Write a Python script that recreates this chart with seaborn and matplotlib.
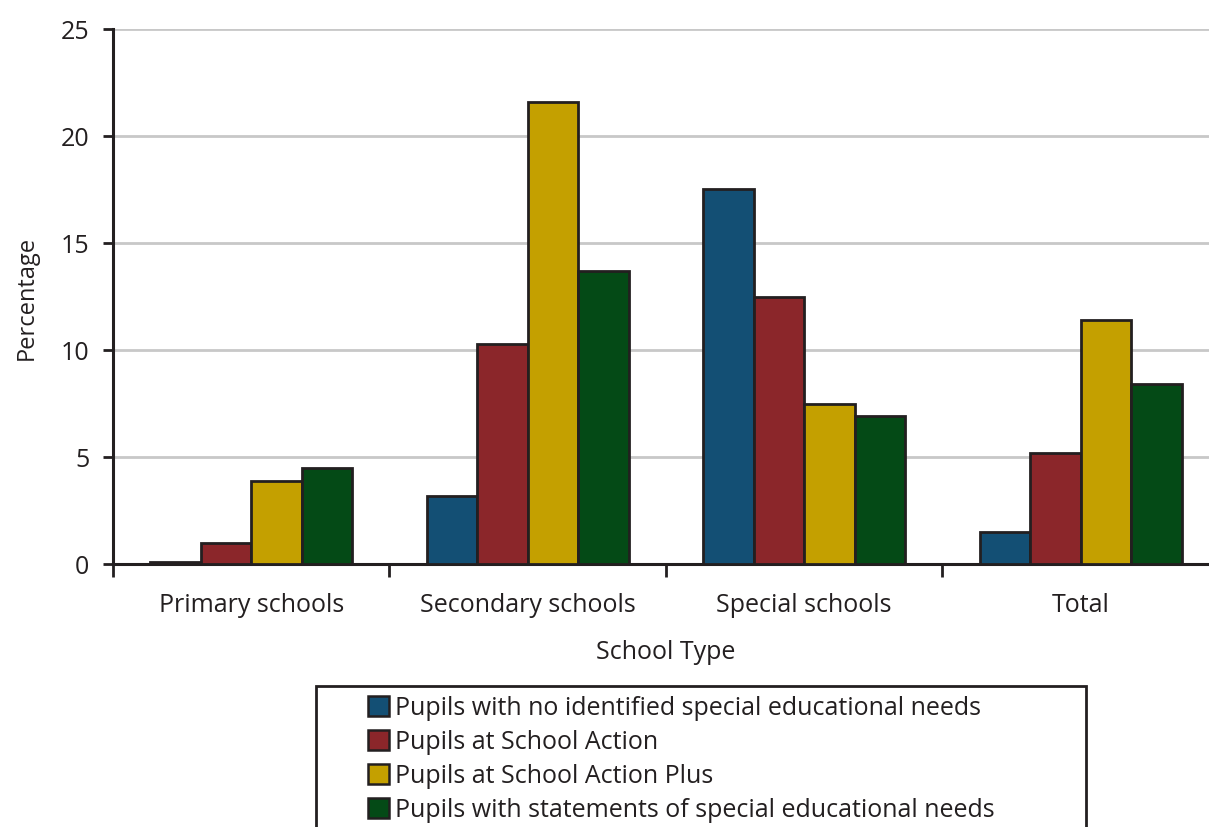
import pandas as pd
import matplotlib.pyplot as plt
import seaborn as sns
from matplotlib.patches import Rectangle

school_types = ['Primary schools', 'Secondary schools', 'Special schools', 'Total']
groups = [
    'Pupils with no identified special educational needs',
    'Pupils at School Action',
    'Pupils at School Action Plus',
    'Pupils with statements of special educational needs',
]
no_sen = [0.1, 3.2, 17.5, 1.5]
school_action = [1.0, 10.3, 12.5, 5.2]
action_plus = [3.9, 21.6, 7.5, 11.4]
statements = [4.5, 13.7, 6.9, 8.4]

colors = ['#134f74', '#8b262a', '#c4a000', '#044a16']
ink = '#231f20'


def main():
    rows = []
    for grp, vals in zip(groups, [no_sen, school_action, action_plus, statements]):
        for school, v in zip(school_types, vals):
            rows.append({'School Type': school, 'Group': grp, 'Percentage': v})
    df = pd.DataFrame(rows)

    sns.set_style('white')
    plt.rcParams['font.family'] = ['Open Sans', 'DejaVu Sans']
    plt.rcParams['text.color'] = ink

    fig = plt.figure(figsize=(12.09, 8.28), dpi=100)
    ax = fig.add_axes([113 / 1209, 1 - 565 / 828, 1106 / 1209, 535 / 828])

    sns.barplot(
        data=df,
        x='School Type',
        y='Percentage',
        hue='Group',
        hue_order=groups,
        order=school_types,
        palette=colors,
        width=0.73,
        edgecolor=ink,
        linewidth=2,
        saturation=1,
        ax=ax,
        legend=False,
        zorder=3
    )

    ax.set_ylim(0, 25)
    ax.set_xlim(-0.5, 3.5)
    ax.set_yticks([0, 5, 10, 15, 20, 25])
    ax.yaxis.grid(True, color='#c8c8c8', linewidth=2, zorder=0)
    ax.set_axisbelow(True)

    for side in ['top', 'right']:
        ax.spines[side].set_visible(False)
    for side in ['left', 'bottom']:
        ax.spines[side].set_color(ink)
        ax.spines[side].set_linewidth(2.2)

    ax.tick_params(axis='y', length=7, width=2, color=ink, labelsize=18, labelcolor=ink, pad=10, left=True)
    ax.tick_params(axis='x', which='major', length=0, labelsize=18, labelcolor=ink, pad=20)
    ax.set_xticks([-0.5, 0.5, 1.5, 2.5, 3.5], minor=True)
    ax.tick_params(axis='x', which='minor', length=9, width=2, color=ink, bottom=True)

    ax.set_xlabel('School Type', fontsize=18, color=ink, labelpad=16)
    ax.set_ylabel('Percentage', fontsize=17, color=ink, labelpad=16)

    # legend box, open at the bottom edge of the picture
    fig.patches.append(Rectangle(
        (316 / 1209, -0.05), (1086 - 316) / 1209, 0.05 + 1 - 687 / 828,
        transform=fig.transFigure, fill=False, edgecolor=ink, linewidth=2
    ))
    handles = [Rectangle((0, 0), 1, 1, facecolor=c, edgecolor=ink, linewidth=1.8) for c in colors]
    fig.legend(
        handles, groups,
        loc='upper left',
        bbox_to_anchor=(350 / 1209, 1 - 679 / 828),
        frameon=False,
        fontsize=18,
        handlelength=0.85,
        handleheight=0.85,
        handletextpad=0.25,
        labelspacing=0.36,
        borderpad=0.2
    )

    fig.savefig('out.png', dpi=100)


if __name__ == '__main__':
    main()
